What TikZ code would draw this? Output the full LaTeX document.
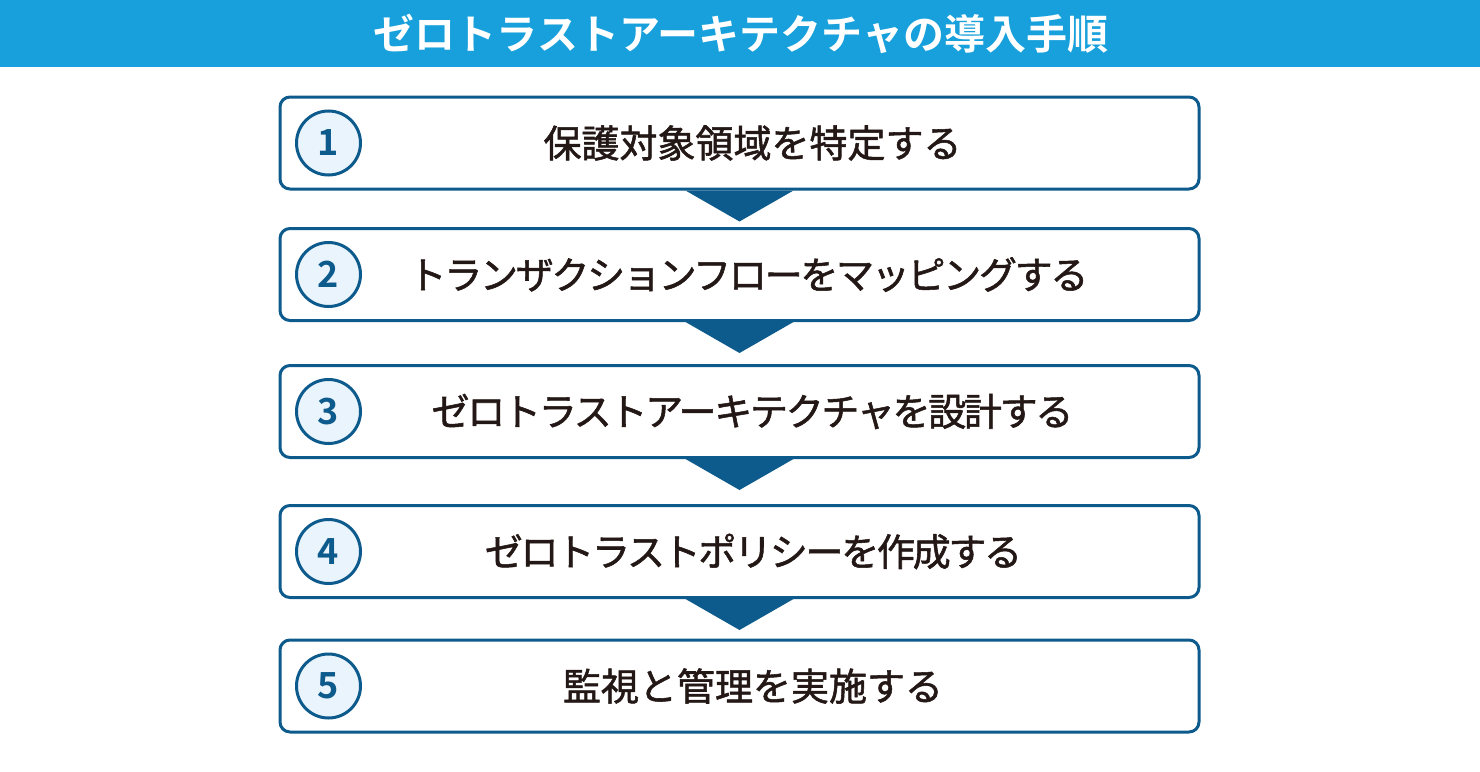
\documentclass[tikz,border=0pt]{standalone}
\usepackage{fontspec}
\usepackage{tikz}
\usetikzlibrary{positioning}
\newfontfamily\jpstep[FakeBold=1.4]{Noto Sans CJK JP}
\newfontfamily\jpbold[BoldFont={* Bold}]{Noto Sans CJK JP}
\definecolor{barblue}{HTML}{17A0DB}
\definecolor{stepline}{HTML}{0D5A8C}
\definecolor{circfill}{HTML}{EAF4FC}
\definecolor{textdark}{HTML}{231815}
\tikzset{
  stepbox/.style = {draw = stepline, line width = 3pt, rounded corners = 10pt, fill = white,
    minimum width = 919pt, minimum height = 92pt},
  steptext/.style = {text = textdark, font = \jpstep\fontsize{38}{44}\selectfont},
  tight/.style = {font = \jpstep\fontsize{38}{44}\selectfont\addfontfeatures{LetterSpace=-6}},
  numcircle/.style = {circle, draw = stepline, line width = 3pt, fill = circfill,
    minimum size = 64pt, inner sep = 0pt, text = stepline, font = \jpbold\bfseries\fontsize{36}{40}\selectfont},
  downarrow/.style = {fill = stepline}
}
\begin{document}
\begin{tikzpicture} [x = 1pt, y = -1pt]
\useasboundingbox (0,0) rectangle (1480,771);
\fill[barblue] (0,0) rectangle (1480,67);
\node(title) at (741,33.5) {\jpbold\bfseries\fontsize{41}{46}\selectfont\color{white}ゼロトラストアーキテクチャの導入手順};
\node[stepbox](s1) at (739.5,143) {};
\node[stepbox](s2) at (739.5,274.5) {};
\node[stepbox](s3) at (739.5,411.5) {};
\node[stepbox](s4) at (739.5,551.5) {};
\node[stepbox](s5) at (739.5,686) {};
\node[numcircle](n1) at (328.5,143) {1};
\node[numcircle](n2) at (328.5,274.5) {2};
\node[numcircle](n3) at (328.5,411.5) {3};
\node[numcircle](n4) at (328.5,551.5) {4};
\node[numcircle](n5) at (328.5,686) {5};
\node[steptext](t1) at (752.5,143) {保護対象領域を特定する};
\node[steptext, tight](t2) at (748.5,274.5) {トランザクションフローをマッピングする};
\node[steptext, tight](t3) at (752.5,411.5) {ゼロトラストアーキテクチャを設計する};
\node[steptext, tight](t4) at (753.5,551.5) {ゼロトラストポリシーを作成する};
\node[steptext](t5) at (753,686) {監視と管理を実施する};
\foreach \a in {1,2,3,4}{
  \fill[downarrow] ([xshift=-54pt]s\a.south) -- ([xshift=54pt]s\a.south) -- ([yshift=-31pt]s\a.south) -- cycle;
}
\end{tikzpicture}
\end{document}
